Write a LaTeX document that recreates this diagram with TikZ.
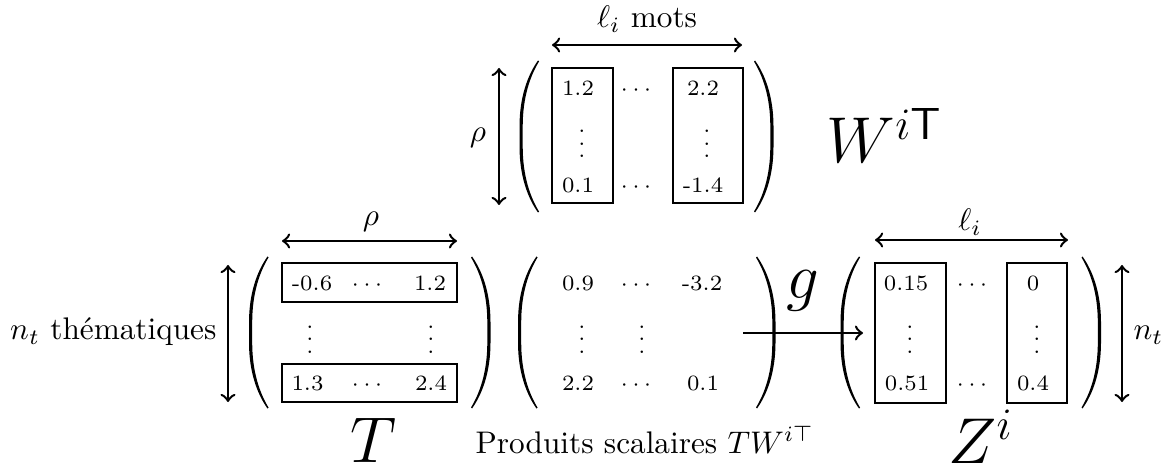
\documentclass[tikz,border=0pt]{standalone}
\newcommand{\myvdots}{\vbox{\baselineskip4pt\lineskiplimit0pt\hbox{.}\hbox{.}\hbox{.}}}
\begin{document}
\begin{tikzpicture}[x=0.32pt,y=-0.32pt,
  box/.style 2 args={draw, thick, inner sep=0pt, minimum width=#1*0.32pt, minimum height=#2*0.32pt},
  num/.style={inner sep=0pt, anchor=base, font=\scriptsize},
  dimarrow/.style={thick, <->},
  lab/.style={inner sep=0pt},
  big/.style={inner sep=0pt, font=\huge},
  lparen/.pic={\fill (9,-76) .. controls (-1,-62) and (-9.5,-40) .. (-9.5,-10) -- (-9.5,10) .. controls (-9.5,40) and (-1,62) .. (9,76) -- (10,75) .. controls (1.5,61) and (-6.3,40) .. (-6.3,10) -- (-6.3,-10) .. controls (-6.3,-40) and (1.5,-61) .. (10,-75) -- cycle;},
  rparen/.pic={\fill (-9,-76) .. controls (1,-62) and (9.5,-40) .. (9.5,-10) -- (9.5,10) .. controls (9.5,40) and (1,62) .. (-9,76) -- (-10,75) .. controls (-1.5,61) and (6.3,40) .. (6.3,10) -- (6.3,-10) .. controls (6.3,-40) and (-1.5,-61) .. (-10,-75) -- cycle;}]
\useasboundingbox (0,0) rectangle (1168,470);

% ---------- W matrix ----------
\pic at (529,136.5) {lparen};
\pic at (764,136.5) {rparen};
\node[box={61}{135}] (wb1) at (582.5,135.5) {};
\node[box={70}{135}] (wb2) at (708,135.5) {};
\node[num] (w11) at (578,96) {1.2};
\node[num] (w12) at (636,96) {$\cdots$};
\node[num] (w13) at (703,96) {2.2};
\node[num] (w21) at (582,158) {\myvdots};
\node[num] (w23) at (707,158) {\myvdots};
\node[num] (w31) at (578,193) {0.1};
\node[num] (w32) at (636,193) {$\cdots$};
\node[num] (w33) at (703,193) {-1.4};
\coordinate (wa1) at (552,45);
\coordinate (wa2) at (742,45);
\draw[dimarrow] (wa1) -- (wa2);
\node[lab, anchor=base] (wlab) at (647,28) {$\ell_i$ mots};
\coordinate (wv1) at (499,68);
\coordinate (wv2) at (499,205);
\draw[dimarrow] (wv1) -- (wv2);
\node[lab] (wrho) at (478,138) {$\rho$};
\node[big, anchor=base west] (wname) at (826,163) {$W^{i\mathsf{T}}$};

% ---------- T matrix ----------
\pic at (258.5,332.5) {lparen};
\pic at (481,332.5) {rparen};
\node[box={175}{39}] (tb1) at (369.5,282.5) {};
\node[box={175}{38}] (tb2) at (369.5,383) {};
\node[num] (t11) at (312,291) {-0.6};
\node[num] (t12) at (367,291) {$\cdots$};
\node[num] (t13) at (430,291) {1.2};
\node[num] (t21) at (310,353) {\myvdots};
\node[num] (t23) at (431,353) {\myvdots};
\node[num] (t31) at (307.5,390) {1.3};
\node[num] (t32) at (367,390) {$\cdots$};
\node[num] (t33) at (431,390) {2.4};
\coordinate (ta1) at (282,241);
\coordinate (ta2) at (457,241);
\draw[dimarrow] (ta1) -- (ta2);
\node[lab] (trho) at (371,222) {$\rho$};
\coordinate (tv1) at (228,265);
\coordinate (tv2) at (228,402);
\draw[dimarrow] (tv1) -- (tv2);
\node[lab, anchor=base east] (tlab) at (217,340) {$n_t$ thématiques};
\node[big, anchor=base] (tname) at (373,462) {$T$};

% ---------- product matrix ----------
\pic at (527.5,332.5) {lparen};
\pic at (766,332.5) {rparen};
\node[num] (m11) at (578,291) {0.9};
\node[num] (m12) at (636,291) {$\cdots$};
\node[num] (m13) at (702,291) {-3.2};
\node[num] (m21) at (582,353) {\myvdots};
\node[num] (m22) at (642,353) {\myvdots};
\node[num] (m31) at (578,390) {2.2};
\node[num] (m32) at (636,390) {$\cdots$};
\node[num] (m33) at (703,390) {0.1};
\node[lab, anchor=base west] (mlab) at (475,453) {Produits scalaires $TW^{i\top}$};

% ---------- g arrow ----------
\coordinate (ga) at (743,333);
\coordinate (gb) at (863,333);
\draw[thick, ->] (ga) -- (gb);
\node[big, anchor=base] (gname) at (803,299) {$g$};

% ---------- Z matrix ----------
\pic at (850,332.5) {lparen};
\pic at (1091.5,332.5) {rparen};
\node[box={71}{140}] (zb1) at (910.5,333) {};
\node[box={60}{140}] (zb2) at (1037,333) {};
\node[num] (z11) at (906,291) {0.15};
\node[num] (z12) at (972,291) {$\cdots$};
\node[num] (z13) at (1033,291) {0};
\node[num] (z21) at (910,353) {\myvdots};
\node[num] (z23) at (1037,353) {\myvdots};
\node[num] (z31) at (907,390) {0.51};
\node[num] (z32) at (972,390) {$\cdots$};
\node[num] (z33) at (1033,390) {0.4};
\coordinate (za1) at (875,240);
\coordinate (za2) at (1068,240);
\draw[dimarrow] (za1) -- (za2);
\node[lab] (zlab) at (970,222) {$\ell_i$};
\coordinate (zv1) at (1122,265);
\coordinate (zv2) at (1122,402);
\draw[dimarrow] (zv1) -- (zv2);
\node[lab, anchor=base west] (znt) at (1133,340) {$n_t$};
\node[big, anchor=base west] (zname) at (948,463) {$Z^i$};
\end{tikzpicture}
\end{document}
